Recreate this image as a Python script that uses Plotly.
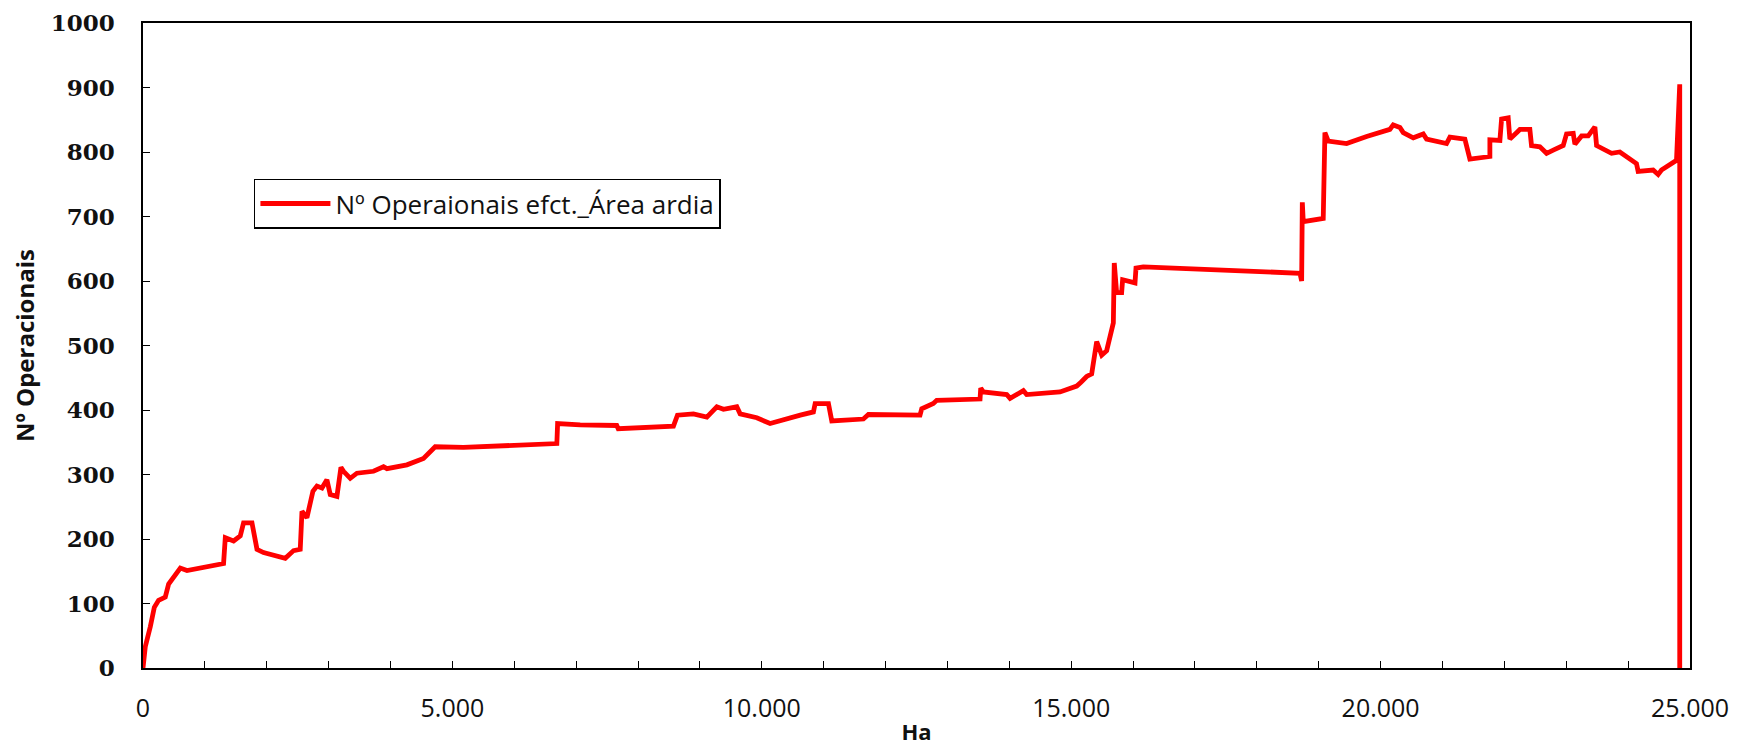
import plotly.graph_objects as go

# Área ardida (Ha) and Nº Operacionais
ha = [0, 37, 118, 183, 252, 360, 414, 494, 603, 711, 1302, 1330, 1464, 1572, 1625, 1761,
      1842, 1948, 2299, 2433, 2541, 2569, 2649, 2746, 2811, 2892, 2972, 3026, 3134, 3199,
      3241, 3349, 3457, 3725, 3887, 3942, 4265, 4533, 4722, 5179, 6688, 6700, 7065, 7656,
      7680, 8572, 8637, 8895, 9112, 9273, 9380, 9596, 9650, 9919, 10134, 10622, 10834,
      10862, 11077, 11131, 11642, 11723, 12557, 12585, 12772, 12827, 13527, 13538, 13580,
      13958, 14012, 14227, 14281, 14819, 15089, 15158, 15250, 15331, 15385, 15412, 15493,
      15573, 15681, 15696, 15734, 15815, 15831, 15950, 16031, 16047, 16165, 18697, 18724,
      18735, 18750, 19073, 19100, 19154, 19451, 19774, 20150, 20204, 20312, 20366, 20528,
      20689, 20743, 21066, 21120, 21362, 21443, 21766, 21766, 21928, 21955, 22062, 22089,
      22197, 22251, 22412, 22439, 22574, 22682, 22790, 22951, 23005, 23113, 23140, 23248,
      23355, 23463, 23490, 23732, 23866, 24135, 24162, 24404, 24485, 24539, 24782, 24834,
      24834]
operacionais = [0, 33, 64, 94, 105, 110, 130, 141, 155, 151, 162, 202, 197, 205, 225, 225,
                184, 179, 170, 182, 184, 243, 233, 274, 282, 279, 292, 269, 266, 311,
                305, 294, 302, 305, 312, 309, 315, 325, 343, 342, 348, 379, 377, 376,
                371, 375, 392, 394, 389, 405, 401, 405, 394, 388, 379, 392, 397,
                410, 410, 383, 386, 393, 392, 402, 410, 415, 417, 434, 428,
                424, 418, 430, 424, 428, 437, 443, 452, 456, 494, 506, 485,
                492, 535, 628, 582, 582, 602, 600, 597, 620, 622, 612, 600,
                722, 692, 697, 830, 817, 813, 824, 835, 842, 838, 830, 822,
                828, 820, 813, 823, 820, 789, 793, 819, 818, 851, 853, 820,
                830, 835, 835, 810, 808, 798, 803, 810, 828, 829, 812, 825,
                825, 839, 810, 798, 800, 782, 770, 772, 765, 772, 787, 905,
                0]

x_tickvals = [0, 5000, 10000, 15000, 20000, 25000]
x_ticktext = ["0", "5.000", "10.000", "15.000", "20.000", "25.000"]
series_name = "Nº Operaionais efct._Área ardia"

fig = go.Figure()
fig.add_trace(go.Scatter(
    x=ha, y=operacionais, mode="lines", name=series_name,
    line=dict(color="#ff0000", width=4.8),
    showlegend=True,
))

# page body has an 8px margin: figure is sized to fit inside it
fig.update_layout(
    width=1736, height=738,
    margin=dict(l=135, r=54, t=15, b=78),
    plot_bgcolor="white", paper_bgcolor="white",
    showlegend=True,
    legend=dict(
        x=0.0717, y=0.72, xanchor="left", yanchor="middle",
        bordercolor="black", borderwidth=1.5, bgcolor="white",
        itemwidth=70,
        font=dict(family="Open Sans", size=26, color="#111111"),
    ),
)

fig.update_xaxes(
    range=[0, 25000], automargin=False, ticklabeloverflow="allow",
    tickvals=x_tickvals, ticktext=x_ticktext,
    ticks="inside", ticklen=7, tickcolor="black", tickwidth=1.2,
    minor=dict(dtick=1000, ticks="inside", ticklen=7, tickcolor="black", tickwidth=1.2),
    showline=True, linecolor="black", linewidth=1.5, mirror=True,
    showgrid=False, zeroline=False,
    tickfont=dict(family="Open Sans", size=25, color="#111111"),
    ticklabelstandoff=17,
    title=dict(text="<b>Ha</b>", font=dict(family="Open Sans", size=22, color="#111111"), standoff=15),
)
fig.update_yaxes(
    range=[0, 1000], dtick=100, automargin=False, ticklabeloverflow="allow",
    ticks="inside", ticklen=7, tickcolor="black", tickwidth=1.2,
    showline=True, linecolor="black", linewidth=1.5, mirror=True,
    showgrid=False, zeroline=False,
    tickfont=dict(family="DejaVu Serif", size=23, color="#111111", weight="bold"),
    ticklabelstandoff=22,
    title=dict(text="<b>Nº Operacionais</b>", font=dict(family="Open Sans", size=24, color="#111111"), standoff=14),
)

fig.write_html("out.html")
